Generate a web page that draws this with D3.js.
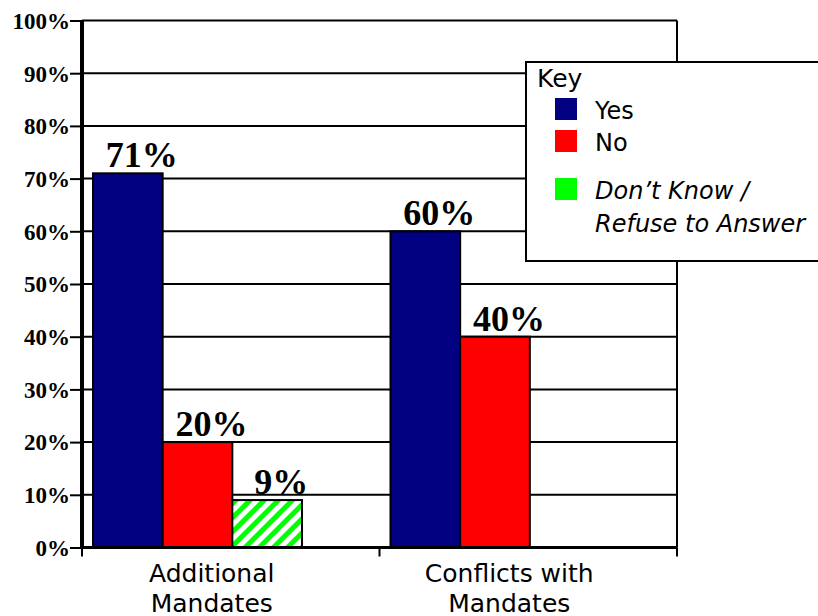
<!DOCTYPE html>
<html>
<head>
<meta charset="utf-8">
<script src="https://cdn.jsdelivr.net/npm/d3@7"></script>
<style>
    body { margin: 0; background: #fff; }
    svg { display: block; }
</style>
</head>
<body>
<svg></svg>
<script>
// data
const categories = [['Additional', 'Mandates'], ['Conflicts with', 'Mandates']];
const seriesKeys = ['Yes', 'No', 'DK'];
const yesValues = [0.71, 0.60];
const noValues = [0.20, 0.40];
const dkValues = [0.09, 0];
const yTicks = [0, 0.1, 0.2, 0.3, 0.4, 0.5, 0.6, 0.7, 0.8, 0.9, 1.0];
const legendLabels = [['Yes'], ['No'], ['Don\u2019t Know /', 'Refuse to Answer']];

const W = 818, H = 616;
const plot = { left: 82, right: 677, top: 20.5, bottom: 547.5 };
const colors = { Yes: '#000080', No: '#ff0000', DK: 'url(#hatch)' };

const svg = d3.select('svg').attr('width', W).attr('height', H);

// hatch for "don't know"
const defs = svg.append('defs');
const pat = defs.append('pattern')
    .attr('id', 'hatch')
    .attr('patternUnits', 'userSpaceOnUse')
    .attr('width', 10).attr('height', 10)
    .attr('patternTransform', 'rotate(45)');
pat.append('rect').attr('width', 10).attr('height', 10).attr('fill', '#fff');
pat.append('rect').attr('x', 0).attr('width', 5).attr('height', 10).attr('fill', '#00ff00');

const catNames = categories.map(c => c.join(' '));
const rows = catNames.map((c, i) => ({ cat: c, Yes: yesValues[i], No: noValues[i], DK: dkValues[i] }));

const x0 = d3.scaleBand().domain(catNames).range([plot.left, plot.right]);
const x1 = d3.scaleBand().domain(seriesKeys).range([11, 220]);
const y = d3.scaleLinear().domain([0, 1]).range([plot.bottom, plot.top]);

// gridlines
svg.append('g')
    .selectAll('line')
    .data(yTicks.slice(1))
    .join('line')
    .attr('x1', plot.left).attr('x2', plot.right)
    .attr('y1', d => y(d)).attr('y2', d => y(d))
    .attr('stroke', '#000').attr('stroke-width', 2);

// right border
svg.append('line')
    .attr('x1', plot.right).attr('x2', plot.right)
    .attr('y1', plot.top).attr('y2', plot.bottom)
    .attr('stroke', '#000').attr('stroke-width', 2);

// bars
const groups = svg.append('g')
    .selectAll('g')
    .data(rows)
    .join('g')
    .attr('transform', d => 'translate(' + x0(d.cat) + ',0)');

groups.selectAll('rect')
    .data(d => seriesKeys.map(k => ({ key: k, value: d[k] })))
    .join('rect')
    .attr('x', d => x1(d.key))
    .attr('width', x1.bandwidth())
    .attr('y', d => y(d.value))
    .attr('height', d => y(0) - y(d.value))
    .attr('fill', d => colors[d.key])
    .attr('stroke', d => d.value > 0 ? '#000' : '#888')
    .attr('stroke-width', 2);

groups.selectAll('text')
    .data(d => seriesKeys.map(k => ({ key: k, value: d[k] })).filter(d => d.value > 0))
    .join('text')
    .attr('x', d => x1(d.key) + x1.bandwidth() / 2 + 14)
    .attr('y', d => y(d.value) - 6)
    .attr('text-anchor', 'middle')
    .attr('font-family', '"Liberation Serif", "Times New Roman", serif')
    .attr('font-weight', 'bold')
    .attr('font-size', 36)
    .text(d => Math.round(d.value * 100) + '%');

// y axis
const yAxis = svg.append('g')
    .attr('transform', 'translate(' + plot.left + ',0)')
    .call(d3.axisLeft(y).tickValues(yTicks).tickFormat(d3.format('.0%')).tickSize(12).tickSizeOuter(0));
yAxis.select('.domain').attr('stroke-width', 4).attr('d', 'M0,' + plot.top + 'V' + (plot.bottom + 1));
yAxis.selectAll('.tick line').attr('stroke-width', 2);
yAxis.selectAll('.tick text')
    .attr('x', -12)
    .attr('dy', '0.34em')
    .attr('fill', '#000')
    .attr('font-family', '"Liberation Serif", "Times New Roman", serif')
    .attr('font-weight', 'bold')
    .attr('font-size', 23);

// x axis
const xAxis = svg.append('g')
    .attr('transform', 'translate(0,' + plot.bottom + ')');
xAxis.append('line')
    .attr('x1', plot.left - 2).attr('x2', plot.right)
    .attr('stroke', '#000').attr('stroke-width', 3);
const xTickPos = [plot.left].concat(catNames.map(c => x0(c) + x0.bandwidth()));
xAxis.selectAll('line.tk')
    .data(xTickPos)
    .join('line')
    .attr('class', 'tk')
    .attr('x1', d => d).attr('x2', d => d)
    .attr('y1', 0).attr('y2', 9)
    .attr('stroke', '#000').attr('stroke-width', 2);

const catLabels = xAxis.selectAll('text')
    .data(categories)
    .join('text')
    .attr('text-anchor', 'middle')
    .attr('font-family', '"DejaVu Sans", Verdana, sans-serif')
    .attr('font-size', 25)
    .attr('fill', '#000');
catLabels.each(function(d, i) {
    const t = d3.select(this);
    d.forEach((line, j) => {
        t.append('tspan')
            .attr('x', x0(catNames[i]) + x0.bandwidth() / 2 - 19)
            .attr('y', 34 + j * 30)
            .text(line);
    });
});

// legend
const lg = svg.append('g').attr('transform', 'translate(526,62)');
lg.append('rect')
    .attr('width', 310).attr('height', 199)
    .attr('fill', '#fff').attr('stroke', '#000').attr('stroke-width', 2);
lg.append('text')
    .attr('x', 11).attr('y', 25)
    .attr('font-family', '"DejaVu Sans", Verdana, sans-serif')
    .attr('font-size', 25)
    .text('Key');

const legendColors = ['#000080', '#ff0000', '#00ff00'];
const swatchY = [36, 68, 116];
const lgItems = lg.selectAll('g.item')
    .data(legendLabels)
    .join('g')
    .attr('class', 'item')
    .attr('transform', (d, i) => 'translate(29,' + swatchY[i] + ')');
lgItems.append('rect')
    .attr('width', 22).attr('height', 22)
    .attr('fill', (d, i) => legendColors[i]);
lgItems.append('text')
    .attr('font-family', '"DejaVu Sans", Verdana, sans-serif')
    .attr('font-size', 24)
    .attr('font-style', (d, i) => i === 2 ? 'italic' : 'normal')
    .each(function(d) {
        const t = d3.select(this);
        d.forEach((line, j) => {
            t.append('tspan').attr('x', 40).attr('y', 21 + j * 32.5).text(line);
        });
    });
</script>
</body>
</html>
